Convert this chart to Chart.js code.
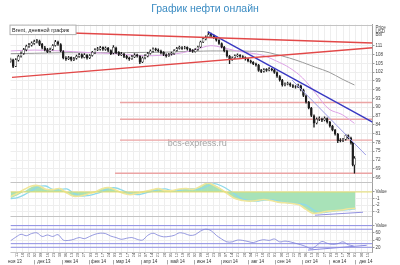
<!DOCTYPE html>
<html lang="ru">
<head>
<meta charset="utf-8">
<title>График нефти онлайн</title>
<script src="https://cdn.jsdelivr.net/npm/chart.js@4.4.1/dist/chart.umd.min.js"></script>
<style>
  html, body { margin: 0; padding: 0; background: #fff; }
  #wrap { position: relative; width: 400px; height: 265px; }
</style>
</head>
<body>
<div id="wrap"><canvas id="oil"></canvas></div>
<script>
// x values are calendar days counted from 1 Nov 2013
const candleDays = [3,6,9,12,15,18,21,24,27,30,
    33,36,39,42,45,48,51,54,57,60,
    63,66,69,72,75,78,81,84,87,90,
    93,96,99,102,105,108,111,114,117,120,
    123,126,129,132,135,138,141,144,147,150,
    153,156,159,162,165,168,171,174,177,180,
    183,186,189,192,195,198,201,204,207,210,
    213,216,219,222,225,228,231,234,237,240,
    243,246,249,252,255,258,261,264,267,270,
    273,276,279,282,285,288,291,294,297,300,
    303,306,309,312,315,318,321,324,327,330,
    333,336,339,342,345,348,351,354,357,360,
    363,366,369,372,375,378,381,384,387,390,
    392,394];

const opens = [105.6,106.2,104.0,106.1,107.5,108.4,109.6,110.9,111.2,111.8,
    112.5,112.6,111.5,110.3,109.7,109.1,109.8,111.1,112.2,111.4,
    109.0,106.8,106.6,107.0,106.2,106.7,107.3,108.0,107.0,107.8,
    106.9,107.7,108.6,109.7,109.8,110.4,109.7,110.1,109.3,108.5,
    110.2,108.7,107.9,108.1,107.4,106.8,106.6,107.2,107.9,107.4,
    105.5,106.9,107.5,108.4,109.1,109.9,109.5,109.2,108.7,107.9,
    107.6,108.1,108.3,109.4,110.1,110.3,110.2,110.4,109.8,109.5,
    109.0,109.7,110.6,112.3,113.3,114.0,114.9,114.4,113.8,112.8,
    111.7,110.5,109.2,107.4,106.4,106.9,107.6,107.7,107.3,106.9,
    106.4,105.8,105.3,104.8,104.3,102.5,102.3,102.9,102.7,103.0,
    102.7,101.8,100.5,99.2,97.7,97.9,98.0,97.4,97.0,97.0,
    97.3,95.9,93.9,91.7,89.7,87.1,84.7,86.0,86.0,85.7,
    86.1,84.9,83.5,82.2,80.8,78.7,78.7,79.1,80.3,79.5,
    77.7,70.3];

const highs = [106.8,106.4,106.6,107.8,108.9,110.1,111.2,111.8,112.3,112.9,
    113.2,112.9,111.8,110.8,110.1,110.2,111.4,112.8,112.6,111.7,
    109.3,107.3,107.4,107.2,107.0,107.8,108.4,108.2,108.3,108.0,
    108.0,109.1,110.0,110.4,110.8,110.6,110.6,110.4,109.6,111.0,
    110.5,109.0,108.7,108.4,107.7,107.1,107.7,108.3,108.1,107.6,
    107.2,108.0,108.7,109.6,110.3,110.2,109.9,109.5,109.0,108.2,
    108.4,108.8,109.7,110.4,110.9,110.7,110.8,110.6,110.1,109.7,
    110.0,110.9,112.6,113.8,114.4,115.7,115.3,114.7,114.1,113.1,
    112.0,110.8,109.5,107.7,107.2,107.9,108.2,108.0,107.6,107.2,
    106.7,106.1,105.6,105.1,104.6,102.9,103.2,103.2,103.5,103.3,
    103.0,102.1,100.8,99.5,98.3,98.6,98.3,97.7,97.4,97.9,
    97.6,96.2,94.2,92.0,90.0,87.4,86.4,86.7,86.3,86.7,
    86.4,85.2,83.8,82.5,81.1,79.3,79.4,80.8,80.6,79.8,
    78.0,73.2];

const lows = [105.2,103.5,103.8,105.7,107.1,108.0,109.2,110.4,110.8,111.4,
    111.9,111.0,109.9,109.2,108.6,108.8,109.5,110.8,111.1,108.9,
    106.5,106.0,106.2,105.8,105.9,106.4,107.0,106.7,106.8,106.4,
    106.6,107.4,108.3,109.3,109.5,109.4,109.4,109.0,107.9,108.2,
    108.3,107.6,107.6,106.9,106.5,106.0,106.3,106.9,107.1,104.9,
    105.2,106.5,107.2,108.1,108.8,109.2,108.9,108.2,107.6,107.1,
    107.3,107.8,108.0,109.1,109.8,109.7,109.9,109.5,109.0,108.7,
    108.8,109.4,110.3,112.0,113.0,113.7,114.1,113.5,112.5,111.4,
    110.2,108.9,107.1,104.9,106.0,106.6,107.2,107.0,106.6,106.1,
    105.5,105.0,104.5,104.0,102.2,101.8,102.0,102.2,102.4,102.4,
    101.5,100.2,98.9,97.2,97.3,97.6,97.1,96.7,96.5,96.7,
    95.6,93.6,91.4,89.4,86.8,83.2,84.3,85.4,85.1,85.3,
    84.6,83.2,81.9,80.5,77.9,78.2,78.3,78.8,79.2,77.4,
    70.0,67.5];

const closes = [106.3,103.9,106.2,107.4,108.3,109.7,110.8,111.3,111.9,112.4,
    112.7,111.4,110.4,109.6,109.0,109.7,111.0,112.3,111.5,109.2,
    106.9,106.5,106.9,106.3,106.6,107.4,107.9,107.1,107.9,106.8,
    107.6,108.7,109.6,109.9,110.3,109.8,110.2,109.4,108.3,110.4,
    108.6,108.0,108.2,107.3,106.9,106.5,107.3,107.8,107.5,105.4,
    106.8,107.6,108.3,109.2,109.8,109.6,109.3,108.6,108.0,107.5,
    108.0,108.4,109.3,110.0,110.4,110.1,110.3,109.9,109.4,109.1,
    109.6,110.5,112.2,113.4,113.9,114.8,114.5,113.9,112.9,111.8,
    110.6,109.3,107.5,106.3,106.8,107.5,107.8,107.4,107.0,106.5,
    105.9,105.4,104.9,104.4,102.6,102.2,102.8,102.6,103.1,102.8,
    101.9,100.6,99.3,97.6,97.8,98.1,97.5,97.1,96.9,97.4,
    96.0,94.0,91.8,89.8,87.2,84.6,85.9,86.1,85.6,86.2,
    85.0,83.6,82.3,80.9,78.6,78.6,79.0,80.4,79.6,77.8,
    70.4,72.6];

// moving averages
const maDays = [3,30,60,90,120,150,180,200,215,230,245,260,275,290,305,320,335,350,365,380,394];
const maFast = [109.2,109.5,109.2,108.7,108.3,107.6,107.8,108.7,109.8,111.0,110.3,109.2,108.5,107.7,105.8,103.5,100.0,94.7,89.4,87.5,84.5];
const maSlow = [108.3,108.4,108.6,108.6,108.6,108.7,108.8,109.0,109.1,109.2,109.2,109.2,109.1,109.0,108.0,106.8,105.3,103.6,102.0,99.6,97.6];

// drawn lines on the price pane: [day, price]
const channelUpper = [[4.7, 116.0], [414.5, 111.9]];
const channelLower = [[4.7, 100.2], [414.5, 110.3]];
const blueTrend = [[227.5, 115.7], [414.5, 84.9]];
const lavenderTrend = [[323, 99.3], [407, 73.7]];
const supportLevels = [91.6, 85.9, 78.8, 67.5];
const supportFrom = [127.5, 127.5, 127.5, 121.8];

// oscillator pane
const macdDays = [3,11,19,27,35,43,51,59,67,75,83,91,99,107,115,123,131,139,147,155,
    163,171,179,187,195,203,211,219,227,235,243,251,259,267,275,283,291,299,307,315,
    323,331,339,347,355,363,371,379,387,395];
const macdHist = [-0.95,-0.5,0.1,0.75,1.0,0.45,0.3,0.55,-0.1,-0.6,-0.6,-0.35,-0.05,0.5,0.65,0.3,-0.15,-0.4,-0.25,0.0,
    0.3,0.5,0.2,0.2,0.45,0.5,0.4,0.8,1.3,1.0,0.4,-0.35,-1.05,-1.3,-1.4,-1.3,-1.15,-1.3,-1.55,-1.65,
    -1.75,-1.9,-2.6,-3.2,-3.1,-2.9,-2.85,-2.75,-2.55,-2.5];
const macdCyan = [-1.0,-0.85,-0.4,0.2,0.8,0.9,0.4,0.35,0.45,-0.2,-0.6,-0.55,-0.3,0.05,0.55,0.6,0.2,-0.2,-0.4,-0.2,
    0.05,0.35,0.45,0.2,0.25,0.45,0.45,0.45,0.9,1.25,0.9,0.3,-0.45,-1.1,-1.3,-1.4,-1.25,-1.2,-1.35,-1.6,
    -1.7,-1.8,-2.0,-2.7,-3.15,-3.05,-2.9,-2.8,-2.7,-2.55];
const macdYellow = [-0.7,-0.2,0.4,0.9,0.95,0.4,0.35,0.5,-0.15,-0.65,-0.6,-0.3,0.0,0.5,0.65,0.25,-0.2,-0.4,-0.2,0.05,
    0.3,0.5,0.2,0.2,0.45,0.5,0.4,0.85,1.35,0.95,0.35,-0.4,-1.05,-1.3,-1.4,-1.3,-1.15,-1.3,-1.55,-1.65,
    -1.75,-1.95,-2.65,-3.25,-3.15,-2.95,-2.85,-2.75,-2.55,-2.5];
const macdTrend = [[349.1, -3.53], [403.7, -3.08]];

// RSI pane
const rsiDays = [3,9,15,21,27,33,39,45,51,57,63,69,75,81,87,93,99,105,111,117,
    123,129,135,141,147,153,159,165,171,177,183,189,195,201,207,213,219,225,231,237,
    243,249,255,261,267,273,279,285,291,297,303,309,315,321,327,333,339,345,351,357,
    363,369,375,381,387,393];
const rsiValues = [38,48,56,52,58,60,50,54,50,55,40,39,42,47,44,50,56,59,58,51,
    47,42,45,47,42,40,53,59,53,49,50,53,60,58,53,55,65,70,66,53,
    43,35,35,40,39,36,33,38,41,39,43,35,37,35,31,27,22,16,25,36,
    31,28,30,35,27,24];
const rsiLevels = [80, 70, 30, 20];
const rsiTrend = [[341.2, 12.2], [407.9, 25.5]];

// axes
const priceTicks = [66,69,72,75,78,81,84,87,90,93,96,99,102,105,108,111];
const priceHeaderAt = 115.8;
const macdTicks = [-3, -2, -1, 0];
const rsiTicks = [20, 40, 60, 80];
const firstMonday = 10;
const weekLabels = ['11','18','25','02','09','16','23','30','06','13','20','27','03','10','17','24',
    '03','10','17','24','31','07','14','21','28','05','12','19','26','02','09','16','23','30',
    '07','14','21','28','04','11','18','25','01','08','15','22','29','06','13','20','27',
    '03','10','17','24','01','08','15'];
const monthLabels = ['ноя 13','дек 13','янв 14','фев 14','мар 14','апр 14','май 14','июн 14',
    'июл 14','авг 14','сен 14','окт 14','ноя 14','дек 14'];
const monthLabelDays = [8,41,72,103,131,162,193,223,253,284,314,345,377,407];
const monthStartDays = [30,61,92,120,151,181,212,242,273,304,334,365,395];

const X_MIN = 3, X_MAX = 414.5;
const TICK_FONT = { family: 'Liberation Sans', size: 4.5 };

Chart.defaults.font.family = 'Liberation Sans';

const pts = (xs, ys) => xs.map((x, i) => ({ x: x, y: ys[i] }));
const seg = pairs => pairs.map(p => ({ x: p[0], y: p[1] }));

function straightLine(pairs, color, width, axis, order) {
    return {
        type: 'line',
        data: seg(pairs),
        borderColor: color,
        borderWidth: width,
        pointRadius: 0,
        tension: 0,
        yAxisID: axis,
        order: order
    };
}

function smoothLine(xs, ys, color, width, axis, order) {
    return {
        type: 'line',
        data: pts(xs, ys),
        borderColor: color,
        borderWidth: width,
        pointRadius: 0,
        tension: 0.35,
        yAxisID: axis,
        order: order
    };
}

const datasets = [
    straightLine(channelUpper, '#e24848', 1.4, 'y', 1),
    straightLine(channelLower, '#e24848', 1.4, 'y', 1),
    straightLine(blueTrend, '#3838c2', 1.4, 'y', 1),
    straightLine(lavenderTrend, '#9c9ce6', 1, 'y', 2),
    {
        type: 'bar',
        data: candleDays.map((d, i) => ({ x: d, y: [opens[i], closes[i]] })),
        backgroundColor: closes.map((c, i) => c >= opens[i] ? '#ffffff' : '#1e1e1e'),
        borderColor: '#1e1e1e',
        borderWidth: 0.5,
        borderSkipped: false,
        barThickness: 1.8,
        grouped: false,
        yAxisID: 'y',
        order: 3
    },
    {
        type: 'bar',
        data: candleDays.map((d, i) => ({ x: d, y: [lows[i], highs[i]] })),
        backgroundColor: '#1e1e1e',
        barThickness: 0.7,
        grouped: false,
        yAxisID: 'y',
        order: 4
    },
    smoothLine(maDays, maFast, '#dda2e6', 1, 'y', 5),
    smoothLine(maDays, maSlow, '#9a9a9a', 1, 'y', 6)
];

supportLevels.forEach((level, i) => {
    datasets.push(straightLine([[supportFrom[i], level], [X_MAX, level]], '#eba4a4', 1.4, 'y', 7));
});

// oscillator
datasets.push(
    straightLine(macdTrend, '#9090e0', 1, 'yMacd', 8),
    straightLine([[X_MIN, 0], [X_MAX, 0]], '#e4dc6a', 1, 'yMacd', 9),
    smoothLine(macdDays, macdYellow, '#efe69a', 1.6, 'yMacd', 10),
    smoothLine(macdDays, macdCyan, '#8fd9ea', 1.3, 'yMacd', 11),
    {
        type: 'line',
        data: pts(macdDays, macdHist),
        borderWidth: 0,
        backgroundColor: '#a8e2b8',
        fill: 'origin',
        pointRadius: 0,
        tension: 0.35,
        yAxisID: 'yMacd',
        order: 12
    }
);

// RSI
datasets.push(
    straightLine(rsiTrend, '#8a8ae0', 1, 'yRsi', 13),
    smoothLine(rsiDays, rsiValues, '#7c80d8', 0.8, 'yRsi', 14)
);
rsiLevels.forEach(level => {
    datasets.push(straightLine([[X_MIN, level], [X_MAX, level]], '#8c8ce2', 1, 'yRsi', 15));
});

const fixWidth = s => { s.width = 27; };

function paneAxis(weight, min, max, ticks, label) {
    return {
        type: 'linear',
        position: 'right',
        stack: 'panes',
        stackWeight: weight,
        min: min,
        max: max,
        offset: false,
        beginAtZero: false,
        afterFit: fixWidth,
        afterBuildTicks: s => { s.ticks = ticks.map(v => ({ value: v })); },
        grid: { color: '#eeeeee', tickLength: 2, tickColor: '#999' },
        border: { display: true, color: '#a0a0a0' },
        ticks: { autoSkip: false, font: TICK_FONT, color: '#444', padding: 1, callback: label }
    };
}

const priceAxis = paneAxis(157, 64.67, 118.19, priceTicks, v => v === priceHeaderAt ? ['Price', 'USD', 'Bbl'] : v);
priceAxis.afterBuildTicks = s => {
    s.ticks = priceTicks.map(v => ({ value: v })).concat([{ value: priceHeaderAt }]);
};
priceAxis.grid.color = c => (c.tick && c.tick.value === priceHeaderAt) ? 'rgba(0,0,0,0)' : '#eeeeee';
priceAxis.grid.tickColor = c => (c.tick && c.tick.value === priceHeaderAt) ? 'rgba(0,0,0,0)' : '#999';
priceAxis.ticks.font = { family: 'Liberation Sans', size: 4.5, lineHeight: 0.75 };

const paneDecor = {
    id: 'paneDecor',
    beforeDatasetsDraw(chart) {
        const { ctx, chartArea, scales } = chart;
        const y = scales.y;
        ctx.save();
        ctx.font = '9px "Liberation Sans"';
        ctx.fillStyle = '#a6a6a6';
        ctx.textAlign = 'center';
        ctx.textBaseline = 'middle';
        ctx.fillText('bcs-express.ru', chartArea.left + chartArea.width * 0.516, y.top + (y.bottom - y.top) * 0.757);
        ctx.restore();
    },
    afterDraw(chart) {
        const { ctx, chartArea, scales } = chart;
        ctx.save();
        // pane separators
        ctx.strokeStyle = '#c4c4c4';
        ctx.lineWidth = 1;
        [scales.y.top, scales.yMacd.top, scales.yRsi.top, scales.yRsi.bottom].forEach(py => {
            const yy = Math.round(py) + 0.5;
            ctx.beginPath();
            ctx.moveTo(chartArea.left, yy);
            ctx.lineTo(chartArea.right, yy);
            ctx.stroke();
        });
        // month separators
        const xm = scales.xm;
        ctx.strokeStyle = '#aaa';
        monthStartDays.forEach(d => {
            const px = Math.round(xm.getPixelForValue(d)) + 0.5;
            ctx.beginPath();
            ctx.moveTo(px, xm.top + 1);
            ctx.lineTo(px, xm.bottom - 0.5);
            ctx.stroke();
        });
        // caption box
        const bx = chartArea.left - 0.5, by = chartArea.top + 0.5;
        ctx.fillStyle = '#ffffff';
        ctx.fillRect(bx, by, 66, 9.5);
        ctx.strokeStyle = '#b0b0b0';
        ctx.strokeRect(bx, by, 66, 9.5);
        ctx.fillStyle = '#222';
        ctx.font = '5.5px "Liberation Sans"';
        ctx.textAlign = 'left';
        ctx.textBaseline = 'middle';
        ctx.fillText('Brent, дневной график', bx + 2, by + 4.9);
        ctx.restore();
    }
};

new Chart(document.getElementById('oil'), {
    type: 'bar',
    data: { datasets: datasets },
    plugins: [paneDecor],
    options: {
        responsive: true,
        maintainAspectRatio: false,
        animation: false,
        devicePixelRatio: 1,
        events: [],
        layout: { padding: { left: 10.5, right: 0.5, top: 0, bottom: 0 } },
        plugins: {
            legend: { display: false },
            tooltip: { enabled: false },
            title: {
                display: true,
                text: 'График нефти онлайн',
                color: '#3a8bc2',
                font: { family: 'Liberation Sans', size: 10.5, weight: 'normal' },
                padding: { top: 3, bottom: 9 }
            }
        },
        scales: {
            x: {
                type: 'linear',
                position: 'bottom',
                weight: 0,
                min: X_MIN,
                max: X_MAX,
                offset: false,
                grid: { color: '#eeeeee', drawTicks: false, offset: false },
                border: { display: false },
                afterBuildTicks: s => { s.ticks = weekLabels.map((_, i) => ({ value: firstMonday + 7 * i })); },
                afterFit: s => { s.height = 7; },
                ticks: {
                    autoSkip: false,
                    minRotation: 90,
                    maxRotation: 90,
                    padding: 1,
                    font: { family: 'Liberation Sans', size: 3.8 },
                    color: '#555',
                    callback: (v, i) => weekLabels[i]
                }
            },
            xm: {
                type: 'linear',
                position: 'bottom',
                weight: 1,
                min: X_MIN,
                max: X_MAX,
                offset: false,
                grid: { display: false, drawTicks: false },
                border: { display: false },
                afterBuildTicks: s => { s.ticks = monthLabelDays.map(v => ({ value: v })); },
                afterFit: s => { s.height = 6; },
                ticks: {
                    autoSkip: false,
                    minRotation: 0,
                    maxRotation: 0,
                    padding: 0.5,
                    font: TICK_FONT,
                    color: '#333',
                    callback: (v, i) => monthLabels[i]
                }
            },
            y: priceAxis,
            yMacd: paneAxis(34.8, -3.70, 1.58, macdTicks, v => v === 0 ? 'Value' : v),
            yRsi: paneAxis(35.7, 6.9, 105.8, rsiTicks, v => v === 80 ? 'Value' : v)
        }
    }
});
</script>
</body>
</html>
